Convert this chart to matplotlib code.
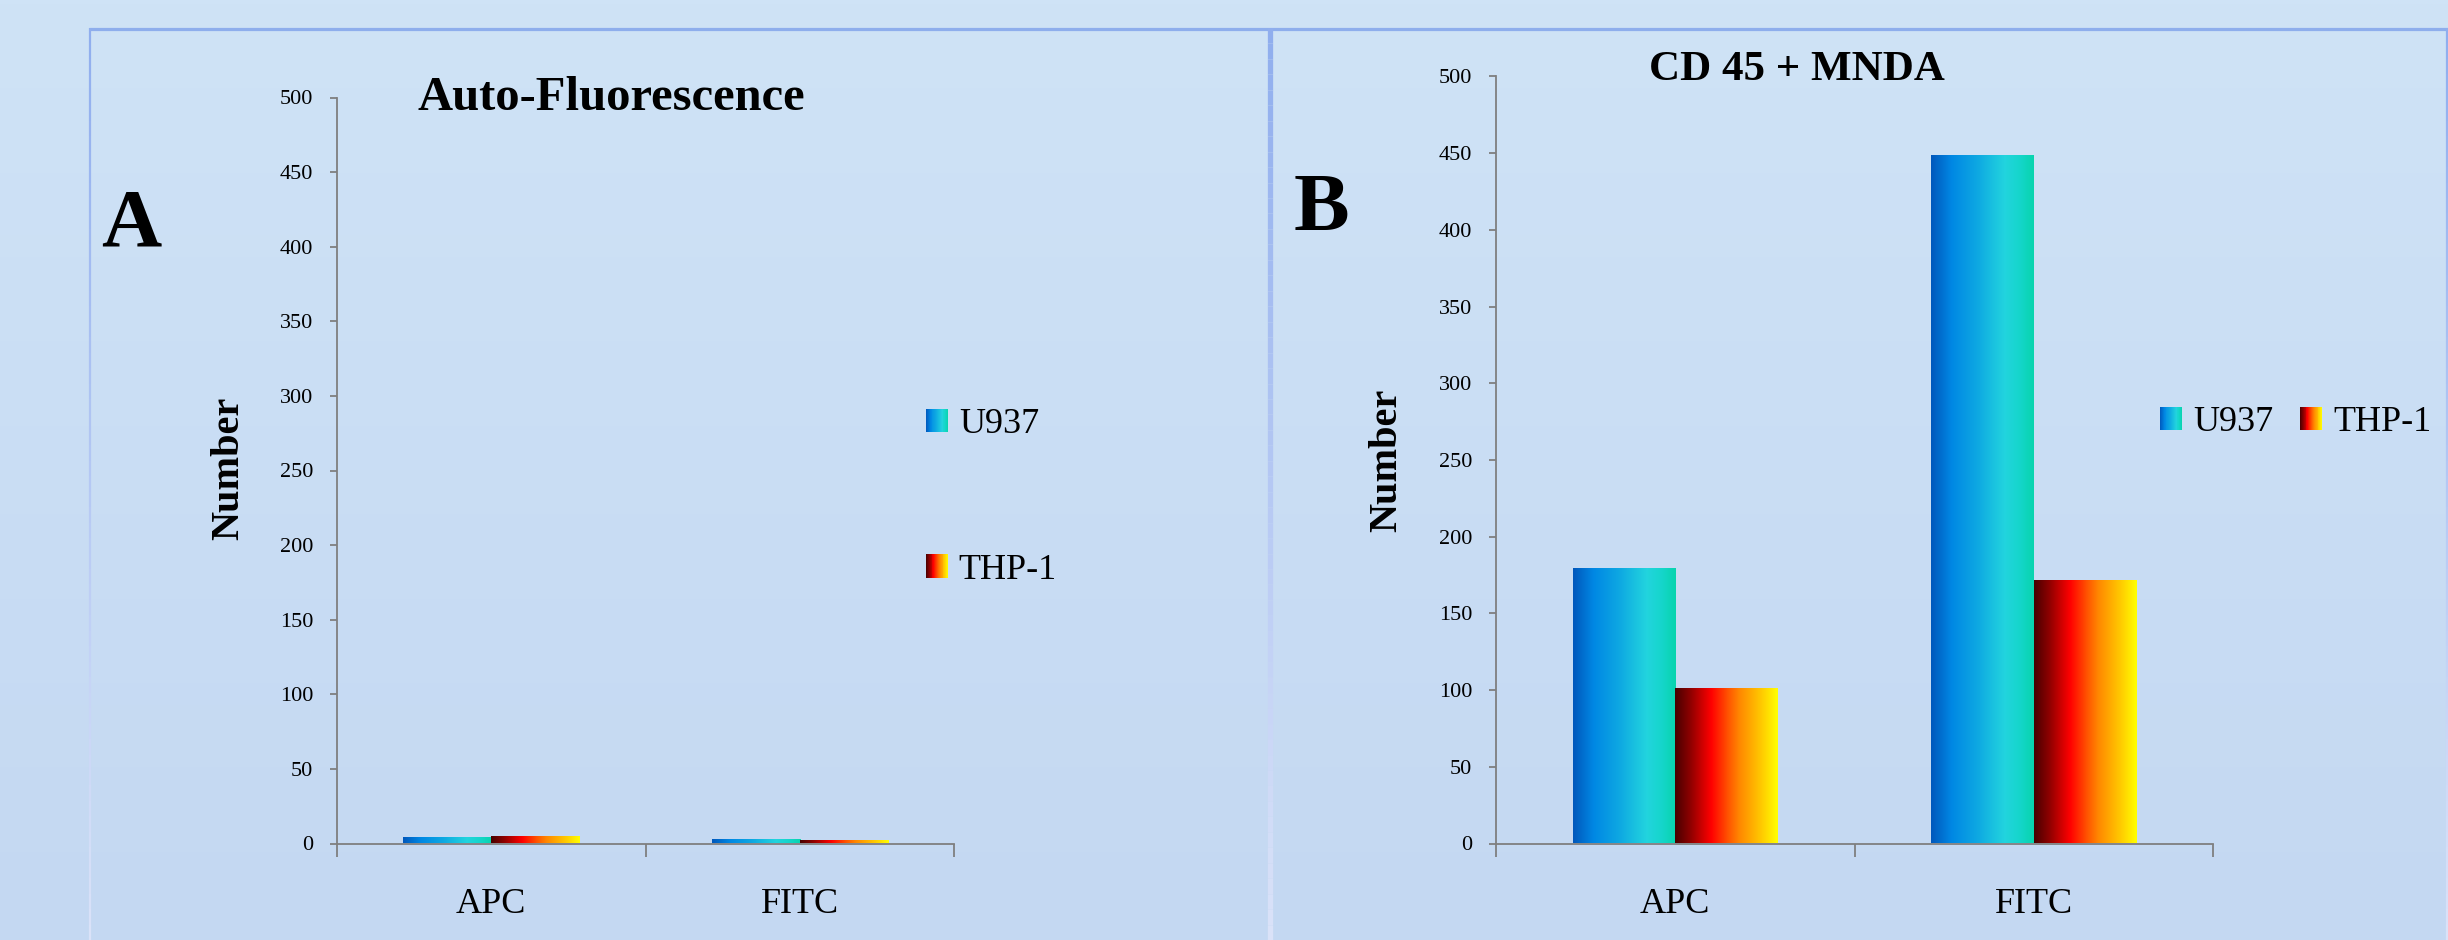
import numpy as np
import matplotlib
matplotlib.use("Agg")
import matplotlib.pyplot as plt
from matplotlib.colors import LinearSegmentedColormap, to_rgb
from matplotlib.collections import LineCollection
from matplotlib.legend_handler import HandlerBase
from matplotlib.patches import Rectangle

plt.rcParams['font.family'] = ['Liberation Serif', 'DejaVu Serif']

# data
categories = ['APC', 'FITC']
series_names = ['U937', 'THP-1']
auto_u937 = [3.5, 2.2]
auto_thp1 = [4.2, 2.0]
cd45_u937 = [179, 448]
cd45_thp1 = [101, 171]
yticks = [0, 50, 100, 150, 200, 250, 300, 350, 400, 450, 500]

u937_cmap = LinearSegmentedColormap.from_list(
    'u937', [(0, '#0058bc'), (0.2, '#0088e4'), (0.45, '#0ea8e2'),
             (0.72, '#22d4de'), (0.86, '#16d6cc'), (1, '#08d4ae')])
thp1_cmap = LinearSegmentedColormap.from_list(
    'thp1', [(0, '#480000'), (0.15, '#900000'), (0.35, '#ff0000'),
             (0.5, '#ff4c00'), (0.63, '#ff8800'), (0.85, '#ffcc00'), (1, '#ffff00')])
cmaps = [u937_cmap, thp1_cmap]

W, H = 2448, 940
fig = plt.figure(figsize=(W / 100, H / 100), dpi=100)

# background gradient + panel frames
bg = fig.add_axes([0, 0, 1, 1], zorder=-10)
top = np.array([207, 227, 246]) / 255
bot = np.array([196, 216, 242]) / 255
t = np.linspace(0, 1, 256)[:, None]
grad = top[None, None, :] * (1 - t[..., None]) + bot[None, None, :] * t[..., None]
grad = np.repeat(grad, 2, axis=1)
bg.imshow(grad, extent=[0, W, H, 0], aspect='auto')
bg.set_xlim(0, W)
bg.set_ylim(H, 0)
bg.axis('off')
bg.plot([89, W], [28.5, 28.5], color='#8eaeec', lw=2.3, solid_capstyle='butt')
line_top = np.array(to_rgb('#90aeee'))
line_bot = np.array(to_rgb('#dae2f8'))
ys = np.linspace(28, H, 60)
for x, lw in [(90, 1.6), (1269.5, 3.8), (2447, 1.6)]:
    segs = [[(x, ys[i]), (x, ys[i + 1])] for i in range(len(ys) - 1)]
    fr = np.linspace(0, 1, len(segs))[:, None]
    cols = line_top * (1 - fr) + line_bot * fr
    bg.add_collection(LineCollection(segs, colors=cols, linewidths=lw))


class GradientHandler(HandlerBase):
    def __init__(self, cmap):
        super().__init__()
        self.cmap = cmap

    def create_artists(self, legend, orig_handle, xdescent, ydescent,
                       width, height, fontsize, trans):
        n = 24
        arts = []
        for i in range(n):
            r = Rectangle((-xdescent + width * i / n, -ydescent), width / n * 1.05, height,
                          facecolor=self.cmap((i + 0.5) / n), edgecolor='none',
                          transform=trans)
            arts.append(r)
        return arts


def draw_panel(rect, vals, title, title_xy, title_size, letter, letter_xy,
               ylabel_xy):
    ax = fig.add_axes(rect)
    ax.patch.set_alpha(0)
    x = np.arange(len(categories))
    w = 0.286
    handles = []
    for k, (v, cm) in enumerate(zip(vals, cmaps)):
        off = (k - 0.5) * w
        bars = ax.bar(x + off, v, w, color='none', edgecolor='none')
        for b in bars:
            g = np.linspace(0, 1, 128)[None, :]
            ax.imshow(g, cmap=cm, extent=[b.get_x(), b.get_x() + b.get_width(),
                                          0, b.get_height()],
                      aspect='auto', zorder=2, interpolation='bilinear')
        handles.append(Rectangle((0, 0), 1, 1))
    ax.set_xlim(-0.5, len(categories) - 0.5)
    ax.set_ylim(0, 500)
    ax.set_yticks(yticks)
    ax.set_yticklabels([str(v) for v in yticks], fontsize=16)
    ax.set_xticks([-0.5, 0.5, 1.5])
    ax.set_xticklabels([])
    ax.set_xticks(x, minor=True)
    ax.set_xticklabels(categories, minor=True, fontsize=26)
    ax.tick_params(axis='x', which='minor', length=0, pad=32)
    ax.tick_params(axis='x', which='major', length=9, width=1.3, color='#7f7f7f')
    ax.tick_params(axis='y', length=5, width=1.3, color='#7f7f7f', pad=12)
    for s in ['top', 'right']:
        ax.spines[s].set_visible(False)
    for s in ['left', 'bottom']:
        ax.spines[s].set_color('#7f7f7f')
        ax.spines[s].set_linewidth(1.3)
    fig.text(title_xy[0] / W, 1 - title_xy[1] / H, title, fontsize=title_size,
             fontweight='bold', ha='left', va='baseline')
    fig.text(letter_xy[0] / W, 1 - letter_xy[1] / H, letter, fontsize=60,
             fontweight='bold', ha='left', va='baseline')
    fig.text(ylabel_xy[0] / W, 1 - ylabel_xy[1] / H, 'Number', fontsize=29,
             fontweight='bold', rotation=90, ha='center', va='center')
    return ax, handles


axA, hA = draw_panel([337 / W, 1 - 843.5 / H, 617 / W, 746 / H],
                     [auto_u937, auto_thp1], 'Auto-Fluorescence', (417, 110), 35,
                     'A', (101, 245), (229, 468))
axB, hB = draw_panel([1496 / W, 1 - 843.5 / H, 717 / W, 767 / H],
                     [cd45_u937, cd45_thp1], 'CD 45 + MNDA', (1649, 80), 31,
                     'B', (1294, 230), (1387, 460))

hmap = {hA[0]: GradientHandler(u937_cmap), hA[1]: GradientHandler(thp1_cmap)}
legA = axA.legend(hA, series_names, handler_map=hmap, frameon=False, fontsize=26,
                  loc='upper left', bbox_to_anchor=(926 / W, 1 - 408 / H),
                  bbox_transform=fig.transFigure, borderpad=0, borderaxespad=0,
                  handlelength=0.61, handleheight=0.61, handletextpad=0.3,
                  labelspacing=3.12)
hmapB = {hB[0]: GradientHandler(u937_cmap), hB[1]: GradientHandler(thp1_cmap)}
legB = axB.legend(hB, series_names, handler_map=hmapB, frameon=False, fontsize=26,
                  loc='upper left', bbox_to_anchor=(2160 / W, 1 - 406 / H),
                  bbox_transform=fig.transFigure, borderpad=0, borderaxespad=0,
                  handlelength=0.61, handleheight=0.61, handletextpad=0.3,
                  ncol=2, columnspacing=0.75)

fig.savefig('out.png', dpi=100)
